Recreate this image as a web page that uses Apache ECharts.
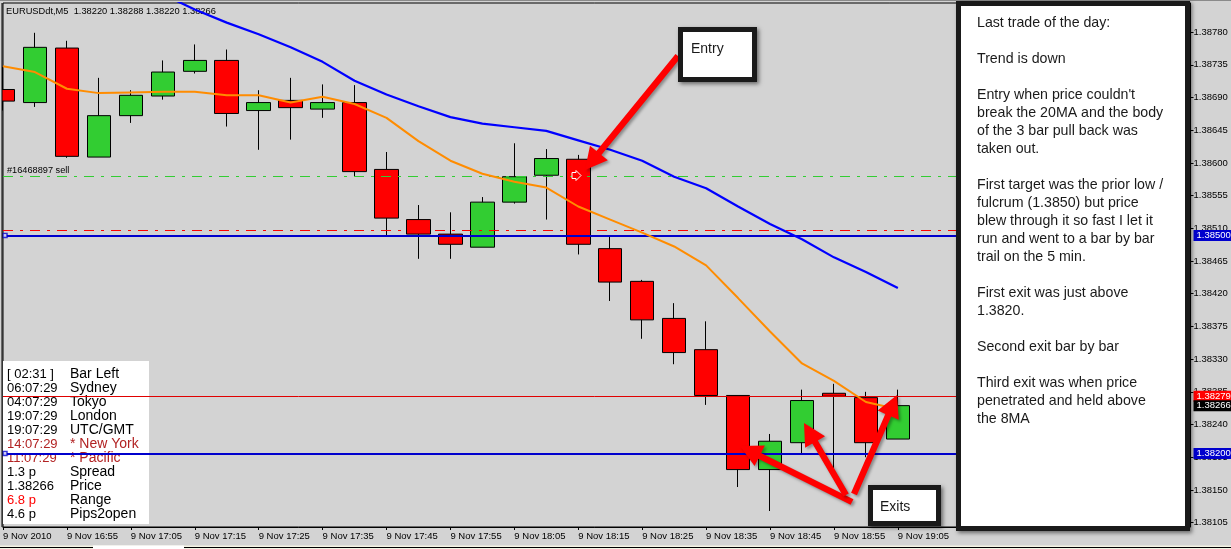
<!DOCTYPE html>
<html><head><meta charset="utf-8">
<style>html,body{margin:0;padding:0;background:#d3d3d3;overflow:hidden}#c{width:1231px;height:549px}</style>
<script src="https://cdn.jsdelivr.net/npm/echarts@6/dist/echarts.min.js"></script>
</head><body><div id="c"></div>
<script>
const times = ['9 Nov 2010','9 Nov 16:50','9 Nov 16:55','9 Nov 17:00','9 Nov 17:05','9 Nov 17:10','9 Nov 17:15','9 Nov 17:20','9 Nov 17:25','9 Nov 17:30','9 Nov 17:35','9 Nov 17:40','9 Nov 17:45','9 Nov 17:50','9 Nov 17:55','9 Nov 18:00','9 Nov 18:05','9 Nov 18:10','9 Nov 18:15','9 Nov 18:20','9 Nov 18:25','9 Nov 18:30','9 Nov 18:35','9 Nov 18:40','9 Nov 18:45','9 Nov 18:50','9 Nov 18:55','9 Nov 19:00','9 Nov 19:05','','','','','','','','',''];
const open  = [1.38701,1.38683,1.38758,1.38608,1.38665,1.38692,1.38726,1.38741,1.38672,1.38686,1.38674,1.38683,1.38591,1.38522,1.38502,1.38484,1.38546,1.38583,1.38605,1.38482,1.38437,1.38386,1.38343,1.38280,1.38178,1.38215,1.38283,1.38277,1.38220];
const close = [1.38685,1.38759,1.38609,1.38665,1.38693,1.38725,1.38741,1.38668,1.38683,1.38676,1.38683,1.38588,1.38524,1.38502,1.38488,1.38546,1.38581,1.38606,1.38488,1.38436,1.38384,1.38339,1.38280,1.38178,1.38217,1.38273,1.38279,1.38215,1.38266];
const low   = [1.38672,1.38677,1.38607,1.38608,1.38655,1.38687,1.38723,1.38650,1.38618,1.38632,1.38662,1.38581,1.38500,1.38468,1.38468,1.38484,1.38544,1.38522,1.38474,1.38410,1.38358,1.38323,1.38267,1.38154,1.38121,1.38200,1.38178,1.38195,1.38220];
const high  = [1.38732,1.38779,1.38768,1.38717,1.38700,1.38741,1.38763,1.38756,1.38700,1.38717,1.38708,1.38707,1.38615,1.38542,1.38532,1.38553,1.38627,1.38619,1.38611,1.38498,1.38439,1.38407,1.38382,1.38280,1.38227,1.38288,1.38296,1.38285,1.38288];
const ma8   = [1.38733,1.38725,1.38702,1.38696,1.38697,1.38698,1.38698,1.38693,1.38693,1.38683,1.38691,1.38681,1.38662,1.38630,1.38603,1.38585,1.38574,1.38566,1.38540,1.38522,1.38504,1.38485,1.38459,1.38414,1.38368,1.38324,1.38300,1.38271,1.38261];
const ma20  = [null,null,null,null,null,1.38832,1.38811,1.38793,1.38777,1.38759,1.38739,1.38713,1.38694,1.38678,1.38663,1.38654,1.38649,1.38644,1.38631,1.38618,1.38603,1.38581,1.38565,1.38540,1.38516,1.38495,1.38470,1.38450,1.38428];
const yTicks = [1.38780,1.38735,1.38690,1.38645,1.38600,1.38555,1.38510,1.38465,1.38420,1.38375,1.38330,1.38285,1.38240,1.38195,1.38150,1.38105];
const yMin = 1.38099, yMax = 1.38820;
const tpLevel = 1.38500, slLevel = 1.38200, tradeOpen = 1.38581, tradeStop = 1.38508, askLevel = 1.38279, bidLevel = 1.38266;
const chartTitle = 'EURUSDdt,M5  1.38220 1.38288 1.38220 1.38266';
const tradeLabel = '#16468897 sell';
const infoLeft  = ['[ 02:31 ]','06:07:29','04:07:29','19:07:29','19:07:29','14:07:29','11:07:29','1.3 p','1.38266','6.8 p','4.6 p'];
const infoRight = ['Bar Left','Sydney','Tokyo','London','UTC/GMT','* New York','* Pacific','Spread','Price','Range','Pips2open'];
const infoColL  = ['#000','#000','#000','#000','#000','#b22222','#b22222','#000','#000','#f00','#000'];
const infoColR  = ['#000','#000','#000','#000','#000','#b22222','#b22222','#000','#000','#000','#000'];
const noteLines = ['Last trade of the day:','','Trend is down','','Entry when price couldn\'t','break the 20MA and the body','of the 3 bar pull back was','taken out.','','First target was the prior low /','fulcrum (1.3850) but price','blew through it so fast I let it','run and went to a bar by bar','trail on the 5 min.','','First exit was just above','1.3820.','','Second exit bar by bar','','Third exit was when price','penetrated and held above','the 8MA'];

const AXIS_FONT = 'Liberation Sans';
const shadow = {shadowBlur:4, shadowOffsetX:2, shadowOffsetY:2, shadowColor:'rgba(0,0,0,0.5)'};
function arrow(x0,y0,x1,y1){
  const dx=x1-x0, dy=y1-y0, L=Math.hypot(dx,dy), ux=dx/L, uy=dy/L, nx=-uy, ny=ux, w=3.2, hw=11.5, hl=22;
  const bx=x1-ux*hl, by=y1-uy*hl;
  return {type:'polygon', z:20, shape:{points:[[x0+nx*w,y0+ny*w],[bx+nx*w,by+ny*w],[bx+nx*hw,by+ny*hw],[x1,y1],[bx-nx*hw,by-ny*hw],[bx-nx*w,by-ny*w],[x0-nx*w,y0-ny*w]]},
    style:{fill:'#f00', shadowBlur:3, shadowOffsetX:2, shadowOffsetY:2, shadowColor:'rgba(0,0,0,0.35)'}};
}
function box(x,y,w,h,bw,z){
  return [{type:'rect', z:z, shape:{x:x,y:y,width:w,height:h}, style:Object.assign({fill:'#1a1a1a'},shadow)},
          {type:'rect', z:z, shape:{x:x+bw,y:y+bw,width:w-2*bw,height:h-2*bw}, style:{fill:'#fff'}}];
}
const txt=(x,y,t,fill,size,font,z)=>({type:'text',z:z,x:x,y:y,style:{text:t,fill:fill,fontSize:size,fontFamily:font,textVerticalAlign:'middle',textAlign:'left'}});

const graphics = [
  {type:'rect', z:3, shape:{x:3,y:361,width:146,height:163}, style:{fill:'#fff'}},
  txt(6,11,chartTitle,'#000',9.3,AXIS_FONT,3),
  txt(7,170,tradeLabel,'#000',9.2,AXIS_FONT,3),
  {type:'rect', z:7, shape:{x:0,y:1,width:2,height:526}, style:{fill:'#d3d3d3'}},
  {type:'rect', z:7, shape:{x:1.5,y:3,width:1,height:524}, style:{fill:'#000'}},
  {type:'polygon', z:9, shape:{points:[[572,172.5],[576,172.5],[576,170.5],[581,175.5],[576,180.5],[576,178.5],[572,178.5]]}, style:{fill:'#f00',stroke:'#fff',lineWidth:1}},
  arrow(678,56,585,170),
  arrow(852,502,740,446),
  arrow(846,495,804,423),
  arrow(854,494,897,395),
  ...box(678,27,79,55,5,21),
  txt(691,49,'Entry','#1a1a1a',14,'Liberation Sans',22),
  ...box(868,485,73,41,5,21),
  txt(880,507,'Exits','#1a1a1a',14,'Liberation Sans',22),
  ...box(956,1,234,530,5,21),
  {type:'text', z:22, x:977, y:14, style:{text:noteLines.join('\n'),fill:'#1a1a1a',fontSize:14.2,lineHeight:18,fontFamily:'Liberation Sans',textAlign:'left',textVerticalAlign:'top'}},
  {type:'rect', z:1, shape:{x:0,y:545.5,width:1231,height:3.5}, style:{fill:'#f4f4e4'}},
  {type:'rect', z:1, shape:{x:0,y:547,width:93,height:1}, style:{fill:'#000'}},
  {type:'rect', z:1, shape:{x:184,y:547,width:1047,height:1}, style:{fill:'#000'}},
  {type:'rect', z:1, shape:{x:93,y:545.5,width:91,height:3.5}, style:{fill:'#fff'}},
  {type:'rect', z:1, shape:{x:0,y:0,width:1231,height:1}, style:{fill:'#8a8a8a'}}
];
infoLeft.forEach((t,i)=>{
  graphics.push(txt(7,374+14*i,t,infoColL[i],13,'Liberation Sans',3));
  graphics.push(txt(70,374+14*i,infoRight[i],infoColR[i],14,'Liberation Sans',3));
});

function tag(level,bg){
  return {yAxis:level,label:{show:true,position:'end',distance:8,formatter:level.toFixed(5),color:'#fff',backgroundColor:bg,fontFamily:AXIS_FONT,fontSize:9.5,lineHeight:11,height:11,padding:[0,2,0,3],width:33,align:'left',verticalAlign:'middle'}};
}
const chart = echarts.init(document.getElementById('c'),null,{renderer:'canvas'});
chart.setOption({
  animation:false,
  backgroundColor:'#d3d3d3',
  grid:{left:1.5,top:3,width:1184,height:524,show:true,backgroundColor:'#d3d3d3',borderColor:'#000',borderWidth:1,containLabel:false},
  xAxis:{type:'category',data:times,boundaryGap:false,
    axisLine:{lineStyle:{color:'#000',width:1}},
    axisTick:{interval:1,length:3,lineStyle:{color:'#000'}},
    axisLabel:{interval:1,align:'left',margin:4,color:'#000',fontFamily:AXIS_FONT,fontSize:9.5,showMinLabel:true,hideOverlap:false},
    splitLine:{show:false}},
  yAxis:{type:'value',position:'right',offset:5,min:yMin,max:yMax,scale:true,
    axisLine:{show:true,onZero:false,lineStyle:{color:'#000'}},
    axisTick:{show:true,length:3,customValues:yTicks,lineStyle:{color:'#000'}},
    axisLabel:{customValues:yTicks,margin:3,color:'#000',fontFamily:AXIS_FONT,fontSize:9.5,formatter:v=>v.toFixed(5),hideOverlap:false},
    splitLine:{show:false}},
  graphic:{elements:graphics},
  series:[
    {type:'line',z:1,name:'trade',data:[],symbol:'none',
      markLine:{silent:true,symbol:'none',precision:5,data:[
        {yAxis:tradeOpen,lineStyle:{color:'#32cd32',type:[10,7,3,7],width:1},label:{show:false}},
        {yAxis:tradeStop,lineStyle:{color:'#f00',type:[10,7,3,7],width:1},label:{show:false}},
        Object.assign(tag(askLevel,'#f00'),{lineStyle:{color:'#e00000',type:'solid',width:1}}),
        Object.assign(tag(bidLevel,'#000'),{lineStyle:{color:'rgba(0,0,0,0)',width:1}})
      ]}},
    {type:'candlestick',z:2,barWidth:24,data:open.map((o,i)=>[o,close[i],low[i],high[i]]),
      itemStyle:{color:'#32cd32',color0:'#f00',borderColor:'#000',borderColor0:'#000',borderColorDoji:'#000',borderWidth:1}},
    {type:'line',z:4,name:'levels',data:[],symbol:'none',
      markLine:{silent:true,symbol:'none',precision:5,data:[
        Object.assign(tag(tpLevel,'#0000cd'),{lineStyle:{color:'#0000cd',type:'solid',width:2}}),
        Object.assign(tag(slLevel,'#0000cd'),{lineStyle:{color:'#0000cd',type:'solid',width:2}})
      ]}},
    {type:'scatter',z:5,data:[[0,tpLevel],[0,slLevel]],symbol:'rect',symbolSize:4,symbolOffset:[2,0],clip:false,
      itemStyle:{color:'#fff',borderColor:'#0000cd',borderWidth:1.5}},
    {type:'line',z:6,data:ma8,symbol:'none',lineStyle:{color:'#ff8c00',width:2}},
    {type:'line',z:6,data:ma20,symbol:'none',connectNulls:false,lineStyle:{color:'#0000ff',width:2.2}}
  ]
});
</script></body></html>
